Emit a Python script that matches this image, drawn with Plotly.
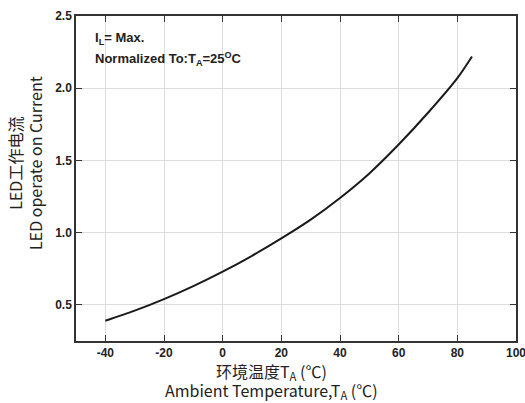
import plotly.graph_objects as go

temps = [-40, -30, -20, -10, 0, 10, 20, 30, 40, 50, 60, 70, 80, 85]
current = [0.39, 0.46, 0.54, 0.63, 0.73, 0.84, 0.96, 1.09, 1.24, 1.41, 1.61, 1.83, 2.07, 2.22]
x_ticks = [-40, -20, 0, 20, 40, 60, 80, 100]
y_ticks = [0.5, 1.0, 1.5, 2.0, 2.5]
y_labels = ["0.5", "1.0", "1.5", "2.0", "2.5"]

fig = go.Figure()
fig.add_trace(go.Scatter(x=temps, y=current, mode="lines",
                         line=dict(color="#1a1a1a", width=2, shape="spline", smoothing=0.8),
                         showlegend=False, hoverinfo="skip"))

tickfont = dict(family="Liberation Sans, Arial", size=12, color="#222", weight="bold")
titlefont = dict(family="Noto Sans CJK SC, Noto Sans", size=16, color="#222")

fig.update_xaxes(range=[-50, 100], tickvals=x_ticks, ticktext=[str(v) for v in x_ticks],
                 showgrid=True, gridcolor="#dcdcdc", gridwidth=1,
                 showline=True, linecolor="#333", linewidth=1.5, mirror="ticks",
                 ticks="inside", ticklen=6, tickcolor="#333", tickfont=tickfont,
                 ticklabeloverflow="allow",
                 zeroline=False, automargin=False)
fig.update_yaxes(range=[0.25, 2.5], tickvals=y_ticks, ticktext=y_labels,
                 showgrid=True, gridcolor="#dcdcdc", gridwidth=1,
                 showline=True, linecolor="#333", linewidth=1.5, mirror="ticks",
                 ticks="inside", ticklen=6, tickcolor="#333", tickfont=tickfont,
                 ticklabeloverflow="allow",
                 zeroline=False, automargin=False)

# axis titles
fig.add_annotation(xref="paper", yref="paper", x=0.445, y=-0.093, xanchor="center", yanchor="middle",
                   showarrow=False, text="环境温度T<sub>A</sub> (℃)", font=titlefont)
fig.add_annotation(xref="paper", yref="paper", x=0.445, y=-0.153, xanchor="center", yanchor="middle",
                   showarrow=False, text="Ambient Temperature,T<sub>A</sub> (℃)", font=titlefont)
fig.add_annotation(xref="paper", yref="paper", x=-0.139, y=0.548, xanchor="center", yanchor="middle",
                   showarrow=False, textangle=-90, text="LED工作电流", font=titlefont)
fig.add_annotation(xref="paper", yref="paper", x=-0.093, y=0.548, xanchor="center", yanchor="middle",
                   showarrow=False, textangle=-90, text="LED operate on Current", font=titlefont)

# inner notes
notefont = dict(family="Liberation Sans, Arial", size=13, color="#222", weight="bold")
fig.add_annotation(xref="paper", yref="paper", x=0.038, y=0.932, xanchor="left", yanchor="middle",
                   showarrow=False, align="left", text="I<sub>L</sub>= Max.", font=notefont)
fig.add_annotation(xref="paper", yref="paper", x=0.038, y=0.868, xanchor="left", yanchor="middle",
                   showarrow=False, align="left",
                   text="Normalized To:T<sub>A</sub>=25<sup>O</sup>C", font=notefont)

fig.update_layout(width=525, height=403, margin=dict(l=76, r=9, t=16, b=62),
                  plot_bgcolor="white", paper_bgcolor="white")
fig.write_html("out.html", config={"displayModeBar": False},
               post_script="document.body.style.margin='0';document.body.style.overflow='hidden';")
